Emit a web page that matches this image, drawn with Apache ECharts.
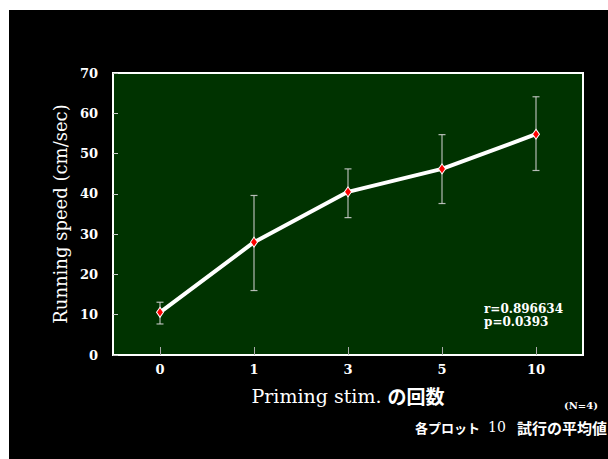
<!DOCTYPE html>
<html>
<head>
<meta charset="utf-8">
<script src="https://cdn.jsdelivr.net/npm/echarts@6/dist/echarts.min.js"></script>
<style>
html,body{margin:0;padding:0;background:#fff;width:608px;height:459px;overflow:hidden;}
#chart{position:absolute;left:9px;top:10px;width:599px;height:449px;background:#000;}
</style>
</head>
<body>
<div id="chart"></div>
<script>
var categories = ['0', '1', '3', '5', '10'];
var means = [10.6, 28.0, 40.5, 46.2, 54.8];
var errLow = [7.7, 16.0, 34.1, 37.6, 45.8];
var errHigh = [13.1, 39.6, 46.2, 54.7, 64.1];
var yTicks = [0, 10, 20, 30, 40, 50, 60, 70];

var serif = '"DejaVu Serif", "Liberation Serif", serif';
var cjk = '"Noto Sans CJK JP", sans-serif';

var chart = echarts.init(document.getElementById('chart'), null, {renderer: 'svg'});
chart.setOption({
  backgroundColor: '#000',
  animation: false,
  grid: {
    left: 104, top: 63, width: 470, height: 282,
    show: true, backgroundColor: '#003300', borderColor: '#fff', borderWidth: 2
  },
  xAxis: {
    type: 'category',
    data: categories,
    boundaryGap: true,
    axisLine: {show: false},
    axisTick: {show: true, inside: true, length: 8, alignWithLabel: true, lineStyle: {color: '#aaa', width: 1}},
    axisLabel: {color: '#fff', fontFamily: serif, fontWeight: 'bold', fontSize: 13, margin: 8},
    splitLine: {show: false},
    name: 'Priming stim. {j|の回数}',
    nameLocation: 'middle',
    nameGap: 31,
    nameTextStyle: {
      color: '#fff', fontFamily: serif, fontSize: 19,
      rich: {j: {color: '#fff', fontFamily: cjk, fontWeight: 'bold', fontSize: 19}}
    }
  },
  yAxis: {
    type: 'value',
    min: yTicks[0], max: yTicks[yTicks.length - 1], interval: 10,
    axisLine: {show: false},
    axisTick: {show: true, inside: true, length: 5, lineStyle: {color: '#ccc', width: 1}},
    axisLabel: {color: '#fff', fontFamily: serif, fontWeight: 'bold', fontSize: 13, margin: 15},
    splitLine: {show: false},
    name: 'Running speed (cm/sec)',
    nameLocation: 'middle',
    nameGap: 44,
    nameTextStyle: {color: '#fff', fontFamily: serif, fontSize: 18}
  },
  series: [
    {
      type: 'custom',
      z: 1,
      data: categories.map(function (c, i) { return [i, errLow[i], errHigh[i]]; }),
      renderItem: function (params, api) {
        var x = api.value(0);
        var lo = api.coord([x, api.value(1)]);
        var hi = api.coord([x, api.value(2)]);
        var hw = 3.5;
        var st = {stroke: 'rgba(210,210,210,0.85)', lineWidth: 1.2};
        return {
          type: 'group',
          children: [
            {type: 'line', shape: {x1: lo[0], y1: lo[1], x2: hi[0], y2: hi[1]}, style: st},
            {type: 'line', shape: {x1: lo[0] - hw, y1: lo[1], x2: lo[0] + hw, y2: lo[1]}, style: st},
            {type: 'line', shape: {x1: hi[0] - hw, y1: hi[1], x2: hi[0] + hw, y2: hi[1]}, style: st}
          ]
        };
      }
    },
    {
      type: 'line',
      z: 3,
      data: means,
      lineStyle: {color: '#fff', width: 4},
      symbol: 'diamond',
      symbolSize: [7, 10],
      itemStyle: {color: '#ff0000', borderColor: '#fff', borderWidth: 1},
      showSymbol: true
    }
  ],
  graphic: [
    {
      type: 'text', left: 475, top: 292,
      style: {text: 'r=0.896634\np=0.0393', fill: '#fff', font: 'bold 12px ' + serif, lineHeight: 13}
    },
    {
      type: 'text', left: 555, top: 390,
      style: {text: '(N=4)', fill: '#fff', font: 'bold 10px ' + serif}
    },
    {
      type: 'text', left: 406, top: 411,
      style: {text: '各プロット', fill: '#fff', font: 'bold 13px ' + cjk}
    },
    {
      type: 'text', left: 479, top: 410,
      style: {text: '10', fill: '#fff', font: '14px ' + serif}
    },
    {
      type: 'text', left: 508, top: 410,
      style: {text: '試行の平均値', fill: '#fff', font: 'bold 15px ' + cjk}
    }
  ]
});
</script>
</body>
</html>
